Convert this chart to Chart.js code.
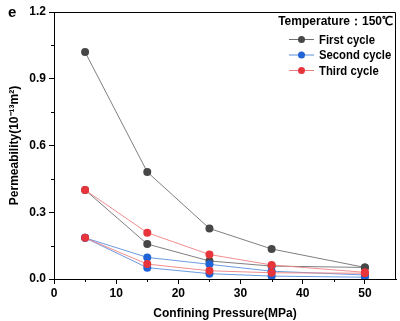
<!DOCTYPE html>
<html>
<head>
<meta charset="utf-8">
<script src="https://cdn.jsdelivr.net/npm/chart.js@4/dist/chart.umd.min.js"></script>
<style>
    html, body { margin: 0; padding: 0; background: #fff; }
    #wrap { position: relative; width: 400px; height: 321px; }
</style>
</head>
<body>
<div id="wrap"><canvas id="permChart"></canvas></div>
<script>
// Confining pressure (MPa)
const pressure = [5, 15, 25, 35, 50];

// Permeability (10^-13 m^2), loading and unloading branch per cycle
const firstLoad    = [1.02, 0.481, 0.227, 0.135, 0.052];
const firstUnload  = [0.40, 0.157, 0.081, 0.058, 0.052];
const secondLoad   = [0.185, 0.097, 0.066, 0.035, 0.018];
const secondUnload = [0.185, 0.051, 0.024, 0.013, 0.008];
const thirdLoad    = [0.40, 0.208, 0.110, 0.063, 0.030];
const thirdUnload  = [0.185, 0.067, 0.037, 0.028, 0.026];

const xTicks = [0, 10, 20, 30, 40, 50];
const yTicks = [0, 0.3, 0.6, 0.9, 1.2];
const xMinor = [5, 15, 25, 35, 45];
const yMinor = [0.15, 0.45, 0.75, 1.05];

const legendTitle = 'Temperature\uFF1A150\u2103';
const cycleNames = ['First cycle', 'Second cycle', 'Third cycle'];

const FONT = "'Liberation Sans', Arial, sans-serif";

const cycleStyle = [
    { line: '#707070', point: '#474747' },
    { line: '#5a8fe0', point: '#1f63d6' },
    { line: '#f08080', point: '#e8353c' }
];

function toXY(ys) {
    return pressure.map((x, i) => ({ x: x, y: ys[i] }));
}

// lower "order" is drawn on top, so the third cycle sits above the others
function makeSet(label, ys, style, order) {
    return {
        label: label,
        data: toXY(ys),
        order: order,
        borderColor: style.line,
        backgroundColor: style.point,
        pointBackgroundColor: style.point,
        pointBorderColor: style.point,
        pointRadius: 4,
        pointBorderWidth: 0,
        borderWidth: 0.9,
        tension: 0,
        fill: false
    };
}

const datasets = [
    makeSet('First cycle', firstLoad, cycleStyle[0], 5),
    makeSet('First cycle', firstUnload, cycleStyle[0], 4),
    makeSet('Second cycle', secondLoad, cycleStyle[1], 3),
    makeSet('Second cycle', secondUnload, cycleStyle[1], 2),
    makeSet('Third cycle', thirdLoad, cycleStyle[2], 1),
    makeSet('Third cycle', thirdUnload, cycleStyle[2], 0)
];

/**
 * Draws the frame, minor ticks, panel letter and the in-plot legend
 */
const decorPlugin = {
    id: 'decor',
    afterDraw(chart) {
        const ctx = chart.ctx;
        const area = chart.chartArea;
        const xs = chart.scales.x;
        const ys = chart.scales.y;

        ctx.save();
        // box
        ctx.strokeStyle = '#000';
        ctx.lineWidth = 1;
        ctx.beginPath();
        ctx.moveTo(area.left, area.top + 0.5);
        ctx.lineTo(area.right - 0.5, area.top + 0.5);
        ctx.lineTo(area.right - 0.5, area.bottom);
        ctx.stroke();

        // minor ticks
        ctx.beginPath();
        xMinor.forEach(v => {
            const px = Math.round(xs.getPixelForValue(v)) + 0.5;
            ctx.moveTo(px, area.bottom);
            ctx.lineTo(px, area.bottom + 3);
        });
        yMinor.forEach(v => {
            const py = Math.round(ys.getPixelForValue(v)) + 0.5;
            ctx.moveTo(area.left, py);
            ctx.lineTo(area.left - 3, py);
        });
        ctx.stroke();

        // panel letter
        ctx.fillStyle = '#000';
        ctx.font = 'bold 15px ' + FONT;
        ctx.textBaseline = 'middle';
        ctx.textAlign = 'left';
        ctx.fillText('e', 8, 13);

        // legend
        ctx.font = 'bold 12px ' + FONT;
        ctx.textAlign = 'right';
        ctx.fillText(legendTitle, 393, 22);

        ctx.textAlign = 'left';
        cycleNames.forEach((name, i) => {
            const y = 39.5 + i * 15.5;
            const st = cycleStyle[i];
            ctx.strokeStyle = st.line;
            ctx.lineWidth = 1;
            ctx.beginPath();
            ctx.moveTo(289, y);
            ctx.lineTo(314, y);
            ctx.stroke();
            ctx.fillStyle = st.point;
            ctx.beginPath();
            ctx.arc(301.5, y, 3.5, 0, Math.PI * 2);
            ctx.fill();
            // slightly condensed text, like the original figure
            ctx.save();
            ctx.translate(319, y + 0.5);
            ctx.scale(0.87, 1);
            ctx.font = 'bold 13px ' + FONT;
            ctx.fillStyle = '#000';
            ctx.fillText(name, 0, 0);
            ctx.restore();
        });
        ctx.restore();
    }
};

new Chart(document.getElementById('permChart'), {
    type: 'line',
    data: { datasets: datasets },
    options: {
        responsive: true,
        maintainAspectRatio: false,
        animation: false,
        layout: { padding: { top: 12, right: 4, left: 7, bottom: 0 } },
        plugins: {
            legend: { display: false },
            tooltip: { enabled: false }
        },
        scales: {
            x: {
                type: 'linear',
                min: 0,
                max: 55,
                afterBuildTicks: scale => {
                    scale.ticks = xTicks.map(v => ({ value: v }));
                },
                afterFit: scale => { scale.height = 42; },
                grid: {
                    drawOnChartArea: false,
                    drawTicks: true,
                    tickLength: 5,
                    color: '#000'
                },
                border: { display: true, color: '#000', width: 1 },
                ticks: {
                    color: '#000',
                    padding: 2,
                    maxRotation: 0,
                    font: { family: FONT, size: 12, weight: 'bold' }
                },
                title: {
                    display: true,
                    text: 'Confining Pressure(MPa)',
                    color: '#000',
                    padding: { top: 0, bottom: 0 },
                    font: { family: FONT, size: 12, weight: 'bold' }
                }
            },
            y: {
                min: 0,
                max: 1.2,
                afterBuildTicks: scale => {
                    scale.ticks = yTicks.map(v => ({ value: v }));
                },
                afterFit: scale => { scale.width = 47; },
                grid: {
                    drawOnChartArea: false,
                    drawTicks: true,
                    tickLength: 5,
                    color: '#000'
                },
                border: { display: true, color: '#000', width: 1 },
                ticks: {
                    color: '#000',
                    padding: 3,
                    font: { family: FONT, size: 12, weight: 'bold' },
                    callback: v => v.toFixed(1)
                },
                title: {
                    display: true,
                    text: 'Permeability(10\u207B\u00B9\u00B3m\u00B2)',
                    color: '#000',
                    padding: { top: 0, bottom: 2 },
                    font: { family: FONT, size: 12, weight: 'bold' }
                }
            }
        }
    },
    plugins: [decorPlugin]
});
</script>
</body>
</html>
